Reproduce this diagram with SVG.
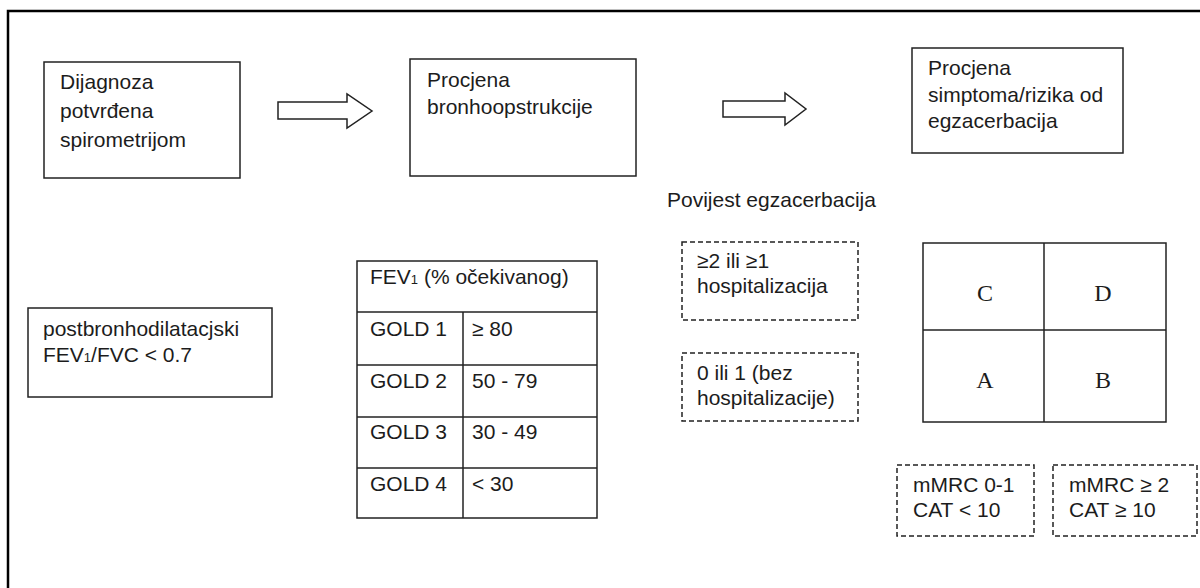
<svg xmlns="http://www.w3.org/2000/svg" width="1200" height="588" viewBox="0 0 1200 588">
<style>
  .t { font-family: "Liberation Sans", Arial, sans-serif; font-size: 21px; fill: #1c1c1c; }
  .s { font-family: "Liberation Serif", "Times New Roman", serif; font-size: 24px; fill: #1c1c1c; text-anchor: middle; }
  .sub { font-size: 13px; }
  .box { fill: #fff; stroke: #222; stroke-width: 1.5; }
  .dash { fill: #fff; stroke: #222; stroke-width: 1.5; stroke-dasharray: 5 3; }
  .ln { stroke: #222; stroke-width: 1.5; fill: none; }
  .arrow { fill: #fff; stroke: #222; stroke-width: 1.5; stroke-linejoin: miter; }
</style>
<rect width="1200" height="588" fill="#fff"/>
<path d="M8 600 V11 H1210" fill="none" stroke="#000" stroke-width="2.5"/>

<g id="connectors">
  <polygon class="arrow" points="278,102 347,102 347,94 372,111 347,128 347,119 278,119"/>
  <polygon class="arrow" points="723,101 785,101 785,93 806,109 785,125 785,117 723,117"/>
</g>

<g id="box-dijagnoza">
  <rect class="box" x="44" y="62" width="196" height="116"/>
  <text class="t" x="60" y="89">Dijagnoza</text>
  <text class="t" x="60" y="118">potvrđena</text>
  <text class="t" x="60" y="147">spirometrijom</text>
</g>

<g id="box-bronho">
  <rect class="box" x="410" y="59" width="226" height="117"/>
  <text class="t" x="427" y="87">Procjena</text>
  <text class="t" x="427" y="114">bronhoopstrukcije</text>
</g>

<g id="box-simptomi">
  <rect class="box" x="912" y="48" width="211" height="105"/>
  <text class="t" x="928" y="75">Procjena</text>
  <text class="t" x="928" y="102">simptoma/rizika od</text>
  <text class="t" x="928" y="128">egzacerbacija</text>
</g>

<g id="box-postbronho">
  <rect class="box" x="28" y="308" width="244" height="89"/>
  <text class="t" x="43" y="336">postbronhodilatacjski</text>
  <text class="t" x="43" y="362">FEV<tspan class="sub">1</tspan>/FVC &lt; 0.7</text>
</g>

<g id="table-gold">
  <rect class="box" x="357" y="261" width="240" height="257"/>
  <line class="ln" x1="357" y1="312" x2="597" y2="312"/>
  <line class="ln" x1="357" y1="365" x2="597" y2="365"/>
  <line class="ln" x1="357" y1="417" x2="597" y2="417"/>
  <line class="ln" x1="357" y1="468" x2="597" y2="468"/>
  <line class="ln" x1="463" y1="312" x2="463" y2="518"/>
  <text class="t" x="370" y="284">FEV<tspan class="sub">1</tspan> (% očekivanog)</text>
  <text class="t" x="370" y="336">GOLD 1</text>
  <text class="t" x="472" y="336">≥ 80</text>
  <text class="t" x="370" y="388">GOLD 2</text>
  <text class="t" x="472" y="388">50 - 79</text>
  <text class="t" x="370" y="439">GOLD 3</text>
  <text class="t" x="472" y="439">30 - 49</text>
  <text class="t" x="370" y="491">GOLD 4</text>
  <text class="t" x="472" y="491">&lt; 30</text>
</g>

<g id="label-povijest">
  <text class="t" x="667" y="207">Povijest egzacerbacija</text>
</g>

<g id="box-hosp">
  <rect class="dash" x="682" y="242" width="176" height="78"/>
  <text class="t" x="697" y="268">≥2 ili ≥1</text>
  <text class="t" x="697" y="293">hospitalizacija</text>
</g>

<g id="box-bezhosp">
  <rect class="dash" x="682" y="353" width="176" height="68"/>
  <text class="t" x="697" y="380">0 ili 1 (bez</text>
  <text class="t" x="697" y="405">hospitalizacije)</text>
</g>

<g id="grid-abcd">
  <rect class="box" x="923" y="243" width="243" height="179"/>
  <line class="ln" x1="1044" y1="243" x2="1044" y2="422"/>
  <line class="ln" x1="923" y1="330" x2="1166" y2="330"/>
  <text class="s" x="985" y="301">C</text>
  <text class="s" x="1103" y="301">D</text>
  <text class="s" x="985" y="388">A</text>
  <text class="s" x="1103" y="388">B</text>
</g>

<g id="box-mmrc-low">
  <rect class="dash" x="897" y="465" width="137" height="71"/>
  <text class="t" x="913" y="492">mMRC 0-1</text>
  <text class="t" x="913" y="517">CAT &lt; 10</text>
</g>

<g id="box-mmrc-high">
  <rect class="dash" x="1053" y="465" width="144" height="71"/>
  <text class="t" x="1069" y="492">mMRC ≥ 2</text>
  <text class="t" x="1069" y="517">CAT ≥ 10</text>
</g>
</svg>
